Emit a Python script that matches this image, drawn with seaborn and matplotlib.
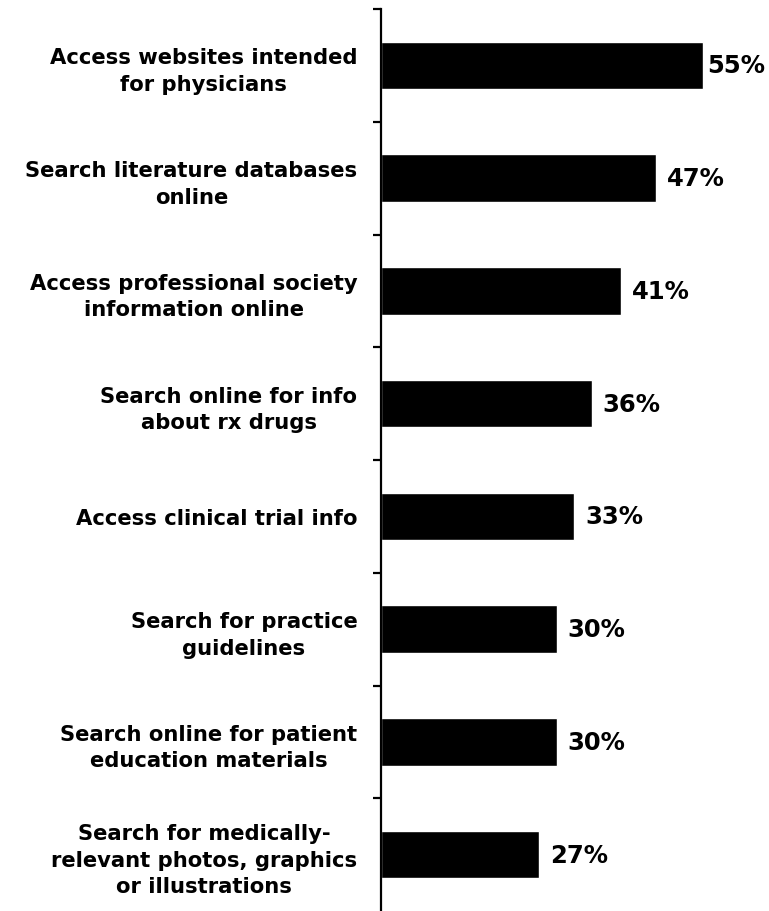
import matplotlib
matplotlib.use("Agg")
import matplotlib.pyplot as plt
import seaborn as sns
import pandas as pd

# Data
activities = [
    "Access websites intended\nfor physicians",
    "Search literature databases\nonline",
    "Access professional society\ninformation online",
    "Search online for info\nabout rx drugs",
    "Access clinical trial info",
    "Search for practice\nguidelines",
    "Search online for patient\neducation materials",
    "Search for medically-\nrelevant photos, graphics\nor illustrations",
]
percents = [55, 47, 41, 36, 33, 30, 30, 27]

df = pd.DataFrame({"activity": activities, "pct": percents})

sns.set_style("white")
plt.rcParams["font.family"] = ["DejaVu Sans"]
plt.rcParams["text.color"] = "black"
plt.rcParams["ytick.color"] = "black"

fig = plt.figure(figsize=(7.69, 9.12), dpi=100)
ax = fig.add_axes([381 / 769, 0, 388 / 769, 902 / 912])

sns.barplot(data=df, x="pct", y="activity", color="black", width=0.42,
            saturation=1, ax=ax)

# the top label sits tight against its bar, the rest have a wider gap
labels = [f"{v}%" for v in percents]
bars = ax.containers[0]
ax.bar_label(bars, labels=[labels[0]] + [""] * (len(labels) - 1),
             padding=3, fontsize=17.5, fontweight="bold", color="black")
ax.bar_label(bars, labels=[""] + labels[1:],
             padding=8, fontsize=17.5, fontweight="bold", color="black")

ax.set_xlim(0, 66.3)
ax.set_ylim(len(activities) - 0.5, -0.5)
ax.set_xlabel("")
ax.set_ylabel("")
ax.set_xticks([])

# category labels, no tick marks at centers
ax.tick_params(axis="y", which="major", length=0, pad=17, labelcolor="black")
for lab in ax.get_yticklabels():
    lab.set_fontweight("bold")
    lab.set_fontsize(15.2)
    lab.set_multialignment("center")
    lab.set_linespacing(1.4)

# tick marks at category boundaries
ax.set_yticks([i - 0.5 for i in range(len(activities))], minor=True)
ax.tick_params(axis="y", which="minor", length=6, width=1.6, color="black",
               direction="out", left=True)

for side in ["top", "right", "bottom"]:
    ax.spines[side].set_visible(False)
ax.spines["left"].set_linewidth(1.6)
ax.spines["left"].set_color("black")

fig.savefig("out.png", dpi=100)
